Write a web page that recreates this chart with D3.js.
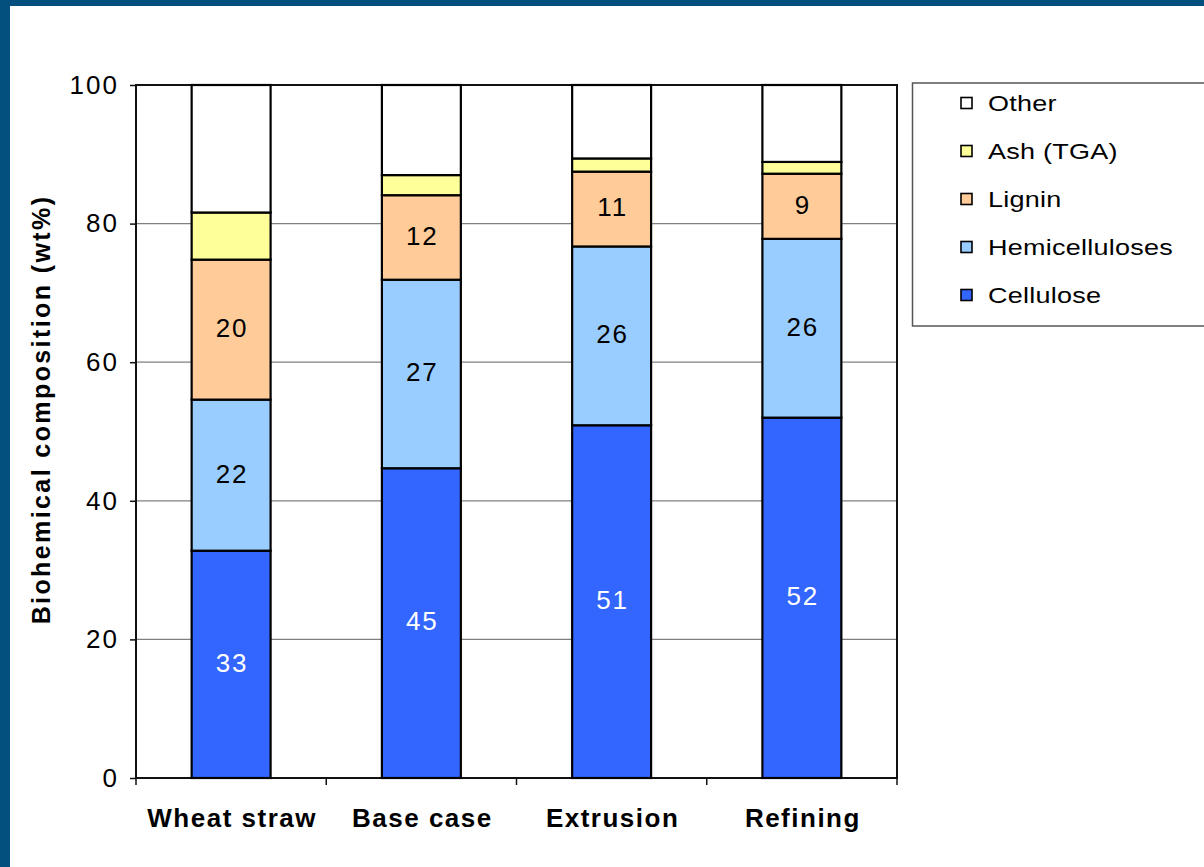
<!DOCTYPE html>
<html>
<head>
<meta charset="utf-8">
<script src="https://cdn.jsdelivr.net/npm/d3@7"></script>
<style>
  html, body { margin: 0; padding: 0; background: #fff; }
  svg { display: block; font-family: "Liberation Sans", Arial, sans-serif; }
</style>
</head>
<body>
<svg id="chart" width="1204" height="867"></svg>
<script>
// Biochemical composition of wheat straw and pretreated samples (wt%)
const categories = ["Wheat straw", "Base case", "Extrusion", "Refining"];
const cellulose      = [32.8, 44.7, 50.9, 52.0];
const hemicelluloses = [21.8, 27.2, 25.8, 25.8];
const lignin         = [20.2, 12.2, 10.8, 9.4];
const ash            = [6.8, 2.9, 1.9, 1.7];
const yTicks = [0, 20, 40, 60, 80, 100];

const seriesNames  = ["Cellulose", "Hemicelluloses", "Lignin", "Ash (TGA)", "Other"];
const seriesColors = ["#3366ff", "#99ccff", "#ffcc99", "#ffff99", "#ffffff"];
const labelColors  = ["#ffffff", "#000000", "#000000", null, null];

const rows = categories.map((c, i) => {
  const other = 100 - cellulose[i] - hemicelluloses[i] - lignin[i] - ash[i];
  return {
    category: c,
    "Cellulose": cellulose[i],
    "Hemicelluloses": hemicelluloses[i],
    "Lignin": lignin[i],
    "Ash (TGA)": ash[i],
    "Other": other
  };
});

const svg = d3.select("#chart");
const W = 1204, H = 867;

// frame
svg.append("rect").attr("width", W).attr("height", H).attr("fill", "#03507e");
svg.append("rect").attr("x", 10).attr("y", 6).attr("width", W - 10).attr("height", H - 6).attr("fill", "#ffffff");

const plot = { left: 136, right: 897, top: 85, bottom: 778 };

const x = d3.scaleBand().domain(categories).range([plot.left, plot.right]).paddingInner(0.585).paddingOuter(0.2925);
const xOuter = d3.scaleBand().domain(categories).range([plot.left, plot.right]);
const y = d3.scaleLinear().domain([0, 100]).range([plot.bottom, plot.top]);

// gridlines
svg.append("g")
  .selectAll("line")
  .data(yTicks.filter(t => t > 0 && t < 100))
  .join("line")
  .attr("x1", plot.left).attr("x2", plot.right)
  .attr("y1", d => y(d)).attr("y2", d => y(d))
  .attr("stroke", "#808080").attr("stroke-width", 1.2);

// plot border
svg.append("rect")
  .attr("x", plot.left).attr("y", plot.top)
  .attr("width", plot.right - plot.left).attr("height", plot.bottom - plot.top)
  .attr("fill", "none").attr("stroke", "#111").attr("stroke-width", 2);

// stacked bars
const stack = d3.stack().keys(seriesNames);
const stacked = stack(rows);

const layers = svg.append("g").selectAll("g")
  .data(stacked)
  .join("g")
  .attr("fill", (d, i) => seriesColors[i]);

layers.selectAll("rect")
  .data(d => d)
  .join("rect")
  .attr("x", d => x(d.data.category))
  .attr("width", x.bandwidth())
  .attr("y", d => y(d[1]))
  .attr("height", d => y(d[0]) - y(d[1]))
  .attr("stroke", "#000").attr("stroke-width", 2.2);

// value labels for the three main components
const fmt = d3.format(".0f");
stacked.forEach((layer, li) => {
  if (!labelColors[li]) return;
  svg.append("g").selectAll("text")
    .data(layer)
    .join("text")
    .attr("x", d => x(d.data.category) + x.bandwidth() / 2 + 1)
    .attr("y", d => (y(d[0]) + y(d[1])) / 2 - 2)
    .attr("dy", "0.36em")
    .attr("text-anchor", "middle")
    .attr("font-size", 26)
    .attr("letter-spacing", 2)
    .attr("fill", labelColors[li])
    .text(d => fmt(d[1] - d[0]));
});

// y axis
const yAxis = d3.axisLeft(y).tickValues(yTicks).tickSize(6).tickPadding(11).tickFormat(d3.format("d"));
const gy = svg.append("g").attr("transform", `translate(${plot.left},0)`).call(yAxis);
gy.select(".domain").remove();
gy.selectAll(".tick line").attr("stroke", "#111").attr("stroke-width", 1.5);
gy.selectAll(".tick text").attr("font-size", 26).attr("fill", "#000")
  .attr("letter-spacing", 2)
  .attr("font-family", "Liberation Sans, Arial, sans-serif");

// x axis: ticks at category boundaries
const boundaries = categories.map(c => xOuter(c)).concat([plot.right]);
svg.append("g").selectAll("line")
  .data(boundaries)
  .join("line")
  .attr("x1", d => d).attr("x2", d => d)
  .attr("y1", plot.bottom).attr("y2", plot.bottom + 7)
  .attr("stroke", "#111").attr("stroke-width", 1.5);

svg.append("g").selectAll("text")
  .data(categories)
  .join("text")
  .attr("x", d => xOuter(d) + xOuter.bandwidth() / 2 + 1)
  .attr("y", 827)
  .attr("text-anchor", "middle")
  .attr("font-size", 26)
  .attr("letter-spacing", 1.5)
  .attr("font-weight", "bold")
  .attr("fill", "#000")
  .text(d => d);

// y axis title
svg.append("text")
  .attr("transform", `translate(50,${(plot.top + plot.bottom) / 2 - 22}) rotate(-90)`)
  .attr("text-anchor", "middle")
  .attr("font-size", 25)
  .attr("letter-spacing", 2.4)
  .attr("font-weight", "bold")
  .attr("fill", "#000")
  .text("Biohemical composition (wt%)");

// legend
const legend = svg.append("g");
legend.append("rect")
  .attr("x", 912.5).attr("y", 83).attr("width", 300).attr("height", 243)
  .attr("fill", "#fff").attr("stroke", "#555").attr("stroke-width", 1.5);

const legendOrder = seriesNames.slice().reverse();
const items = legend.selectAll("g.item")
  .data(legendOrder)
  .join("g")
  .attr("class", "item")
  .attr("transform", (d, i) => `translate(961,${103 + i * 48})`);

items.append("rect")
  .attr("x", 0).attr("y", -5.5).attr("width", 11).attr("height", 11)
  .attr("fill", d => seriesColors[seriesNames.indexOf(d)])
  .attr("stroke", "#000").attr("stroke-width", 1.6);

// legend labels are drawn slightly wide
items.append("text")
  .attr("transform", "translate(27,0) scale(1.2,1)")
  .attr("dy", "0.36em")
  .attr("font-size", 22.5)
  .attr("letter-spacing", 0.2)
  .attr("fill", "#000")
  .text(d => d);
</script>
</body>
</html>
